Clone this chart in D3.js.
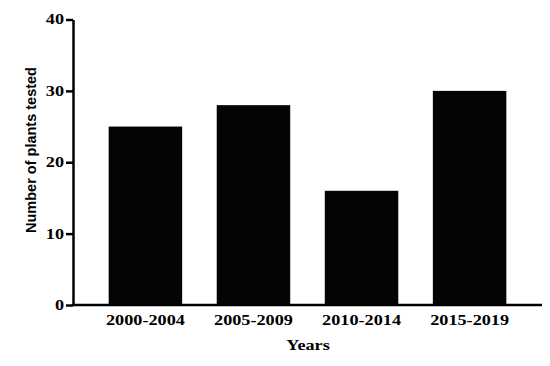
<!DOCTYPE html>
<html>
<head>
<meta charset="utf-8">
<script src="https://cdn.jsdelivr.net/npm/d3@7"></script>
<style>
  body { margin: 0; background: #fff; }
  svg { display: block; }
</style>
</head>
<body>
<div id="chart"></div>
<script>
// data
const periods = ["2000-2004", "2005-2009", "2010-2014", "2015-2019"];
const plantsTested = [25, 28, 16, 30];
const yTicks = [0, 10, 20, 30, 40];

const width = 550, height = 366;
const margin = { left: 73, right: 8, top: 19.5, bottom: 61 };

const svg = d3.select("#chart").append("svg")
    .attr("width", width)
    .attr("height", height);

const x = d3.scaleBand()
    .domain(periods)
    .range([margin.left, width - margin.right])
    .paddingInner(0.32)
    .paddingOuter(0.33);

const y = d3.scaleLinear()
    .domain([0, 40])
    .range([height - margin.bottom, margin.top]);

// the source picture is stretched sideways, so the serif labels are too
const stretch = 1.3;
function widen(sel) {
    sel.each(function() {
        const len = this.getComputedTextLength();
        d3.select(this).attr("textLength", len * stretch).attr("lengthAdjust", "spacingAndGlyphs");
    });
}

// bars
svg.append("g")
  .selectAll("rect")
  .data(periods)
  .join("rect")
    .attr("x", d => x(d))
    .attr("width", x.bandwidth())
    .attr("y", (d, i) => y(plantsTested[i]))
    .attr("height", (d, i) => y(0) - y(plantsTested[i]))
    .attr("fill", "#040405");

// y axis
const yAxis = svg.append("g")
    .attr("transform", `translate(${margin.left},0)`)
    .call(d3.axisLeft(y).tickValues(yTicks).tickSize(7).tickSizeOuter(0).tickPadding(2));
yAxis.select(".domain").attr("stroke", "#000").attr("stroke-width", 2.5);
yAxis.selectAll(".tick line").attr("stroke", "#000").attr("stroke-width", 2.5);
yAxis.selectAll(".tick text")
    .attr("font-family", "'Liberation Serif', 'Times New Roman', serif")
    .attr("font-weight", "bold")
    .attr("font-size", 14)
    .attr("fill", "#000")
    .call(widen);

// x axis (no tick marks)
const xAxis = svg.append("g")
    .attr("transform", `translate(0,${y(0)})`)
    .call(d3.axisBottom(x).tickSize(0).tickPadding(10));
xAxis.select(".domain")
    .attr("d", `M${margin.left - 1.25},0H${width - margin.right}`)
    .attr("stroke", "#000").attr("stroke-width", 2.5);
xAxis.selectAll(".tick text")
    .attr("font-family", "'Liberation Serif', 'Times New Roman', serif")
    .attr("font-weight", "bold")
    .attr("font-size", 14)
    .attr("fill", "#000")
    .call(widen);

// axis titles
svg.append("text")
    .attr("x", 308)
    .attr("y", 350)
    .attr("text-anchor", "middle")
    .attr("font-family", "'Liberation Serif', 'Times New Roman', serif")
    .attr("font-weight", "bold")
    .attr("font-size", 14)
    .text("Years")
    .call(widen);

svg.append("text")
    .attr("transform", "translate(36,150) rotate(-90)")
    .attr("text-anchor", "middle")
    .attr("font-family", "'Liberation Sans', Arial, sans-serif")
    .attr("font-weight", "bold")
    .attr("font-size", 14.5)
    .text("Number of plants tested");
</script>
</body>
</html>
